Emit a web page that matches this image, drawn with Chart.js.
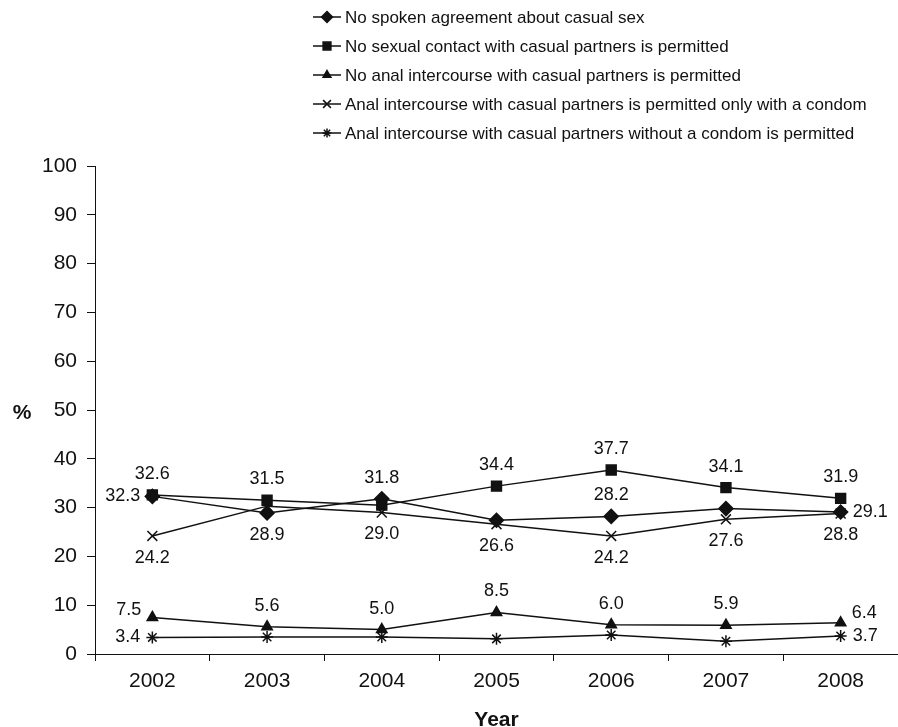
<!DOCTYPE html>
<html>
<head>
<meta charset="utf-8">
<script src="https://cdn.jsdelivr.net/npm/chart.js@4.4.0/dist/chart.umd.min.js"></script>
<style>
  html, body { margin: 0; padding: 0; background: #fff; }
  canvas { display: block; }
</style>
</head>
<body>
<canvas id="agreementChart" width="898" height="727"></canvas>
<script>
// values (percent of men, by year)
const years = ['2002', '2003', '2004', '2005', '2006', '2007', '2008'];
const noSpokenAgreement = [32.3, 28.9, 31.8, 27.4, 28.2, 29.8, 29.1];
const noSexualContact = [32.6, 31.5, 30.5, 34.4, 37.7, 34.1, 31.9];
const noAnalIntercourse = [7.5, 5.6, 5.0, 8.5, 6.0, 5.9, 6.4];
const condomOnly = [24.2, 30.3, 29.0, 26.6, 24.2, 27.6, 28.8];
const withoutCondom = [3.4, 3.5, 3.5, 3.1, 3.9, 2.6, 3.7];
const yTicks = [0, 10, 20, 30, 40, 50, 60, 70, 80, 90, 100];

const seriesNames = [
  'No spoken agreement about casual sex',
  'No sexual contact with casual partners is permitted',
  'No anal intercourse with casual partners is permitted',
  'Anal intercourse with casual partners is permitted only with a condom',
  'Anal intercourse with casual partners without a condom is permitted'
];

// where each value label sits next to its point (null = not labelled)
const labelPlaces = [
  ['left', 'below', 'above', null, 'above', null, 'right'],
  ['above', 'above', null, 'above', 'above', 'above', 'above'],
  ['upleft', 'above', 'above', 'above', 'above', 'above', 'upright'],
  ['below', null, 'below', 'below', 'below', 'below', 'below'],
  ['left', null, null, null, null, null, 'right']
];

const FONT = '"Liberation Sans", Arial, Helvetica, sans-serif';
const INK = '#111';

function lineSet(label, data, style, radius, order) {
  return {
    label: label,
    data: data,
    borderColor: INK,
    backgroundColor: INK,
    borderWidth: 1.5,
    pointStyle: style,
    pointRadius: radius,
    pointHoverRadius: radius,
    pointBorderWidth: 1.5,
    pointBorderColor: INK,
    pointBackgroundColor: INK,
    tension: 0,
    clip: false,
    order: order
  };
}

const valueLabels = {
  id: 'valueLabels',
  afterDatasetsDraw(chart) {
    const ctx = chart.ctx;
    ctx.save();
    ctx.font = '18px ' + FONT;
    ctx.fillStyle = INK;
    chart.data.datasets.forEach((ds, i) => {
      const meta = chart.getDatasetMeta(i);
      meta.data.forEach((pt, j) => {
        const place = labelPlaces[i][j];
        if (!place) return;
        const txt = ds.data[j].toFixed(1);
        let x = pt.x, y = pt.y;
        ctx.textBaseline = 'middle';
        if (place === 'above') { ctx.textAlign = 'center'; y -= 21; }
        else if (place === 'below') { ctx.textAlign = 'center'; y += 22; }
        else if (place === 'left') { ctx.textAlign = 'right'; x -= 12; }
        else if (place === 'right') { ctx.textAlign = 'left'; x += 12; }
        else if (place === 'upleft') { ctx.textAlign = 'right'; x -= 11; y -= 7; }
        else if (place === 'upright') { ctx.textAlign = 'left'; x += 11; y -= 10; }
        ctx.fillText(txt, x, y);
      });
    });
    ctx.restore();
  }
};

const sideLegend = {
  id: 'sideLegend',
  afterDraw(chart) {
    const ctx = chart.ctx;
    ctx.save();
    chart.data.datasets.forEach((ds, i) => {
      const y = 17 + i * 29;
      ctx.strokeStyle = INK;
      ctx.fillStyle = INK;
      ctx.lineWidth = 1.5;
      ctx.beginPath();
      ctx.moveTo(313, y);
      ctx.lineTo(341, y);
      ctx.stroke();
      Chart.helpers.drawPoint(ctx, {
        pointStyle: ds.pointStyle, radius: ds.pointRadius - 1.5, rotation: 0, borderWidth: 1.5
      }, 327, y);
      ctx.font = '17px ' + FONT;
      ctx.textAlign = 'left';
      ctx.textBaseline = 'middle';
      ctx.fillText(ds.label, 345, y + 1);
    });
    // axis titles
    ctx.font = 'bold 21px ' + FONT;
    ctx.textAlign = 'center';
    ctx.textBaseline = 'middle';
    ctx.fillText('%', 22, 413);
    const area = chart.chartArea;
    ctx.fillText('Year', (area.left + area.right) / 2, 720);
    ctx.restore();
  }
};

new Chart(document.getElementById('agreementChart'), {
  type: 'line',
  data: {
    labels: years,
    datasets: [
      lineSet(seriesNames[0], noSpokenAgreement, 'rectRot', 7, 2),
      lineSet(seriesNames[1], noSexualContact, 'rect', 7, 0),
      lineSet(seriesNames[2], noAnalIntercourse, 'triangle', 6, 1),
      lineSet(seriesNames[3], condomOnly, 'crossRot', 7, 1),
      lineSet(seriesNames[4], withoutCondom, 'star', 6, 1)
    ]
  },
  options: {
    responsive: false,
    animation: false,
    layout: { autoPadding: false, padding: { top: 166, right: 0, bottom: 0, left: 0 } },
    plugins: {
      legend: { display: false },
      tooltip: { enabled: false }
    },
    scales: {
      x: {
        offset: true,
        afterFit(scale) { scale.height = 73; },
        grid: {
          offset: true,
          drawOnChartArea: false,
          drawTicks: true,
          tickLength: 7,
          color: INK
        },
        border: { display: true, color: INK, width: 1 },
        ticks: {
          color: INK,
          font: { family: FONT, size: 21 },
          padding: 8,
          maxRotation: 0
        }
      },
      y: {
        min: yTicks[0],
        max: yTicks[yTicks.length - 1],
        afterFit(scale) { scale.width = 95; },
        afterBuildTicks(scale) { scale.ticks = yTicks.map(v => ({ value: v })); },
        grid: {
          drawOnChartArea: false,
          drawTicks: true,
          tickLength: 8,
          color: INK
        },
        border: { display: true, color: INK, width: 1 },
        ticks: {
          color: INK,
          font: { family: FONT, size: 21 },
          padding: 10
        }
      }
    }
  },
  plugins: [valueLabels, sideLegend]
});
</script>
</body>
</html>
